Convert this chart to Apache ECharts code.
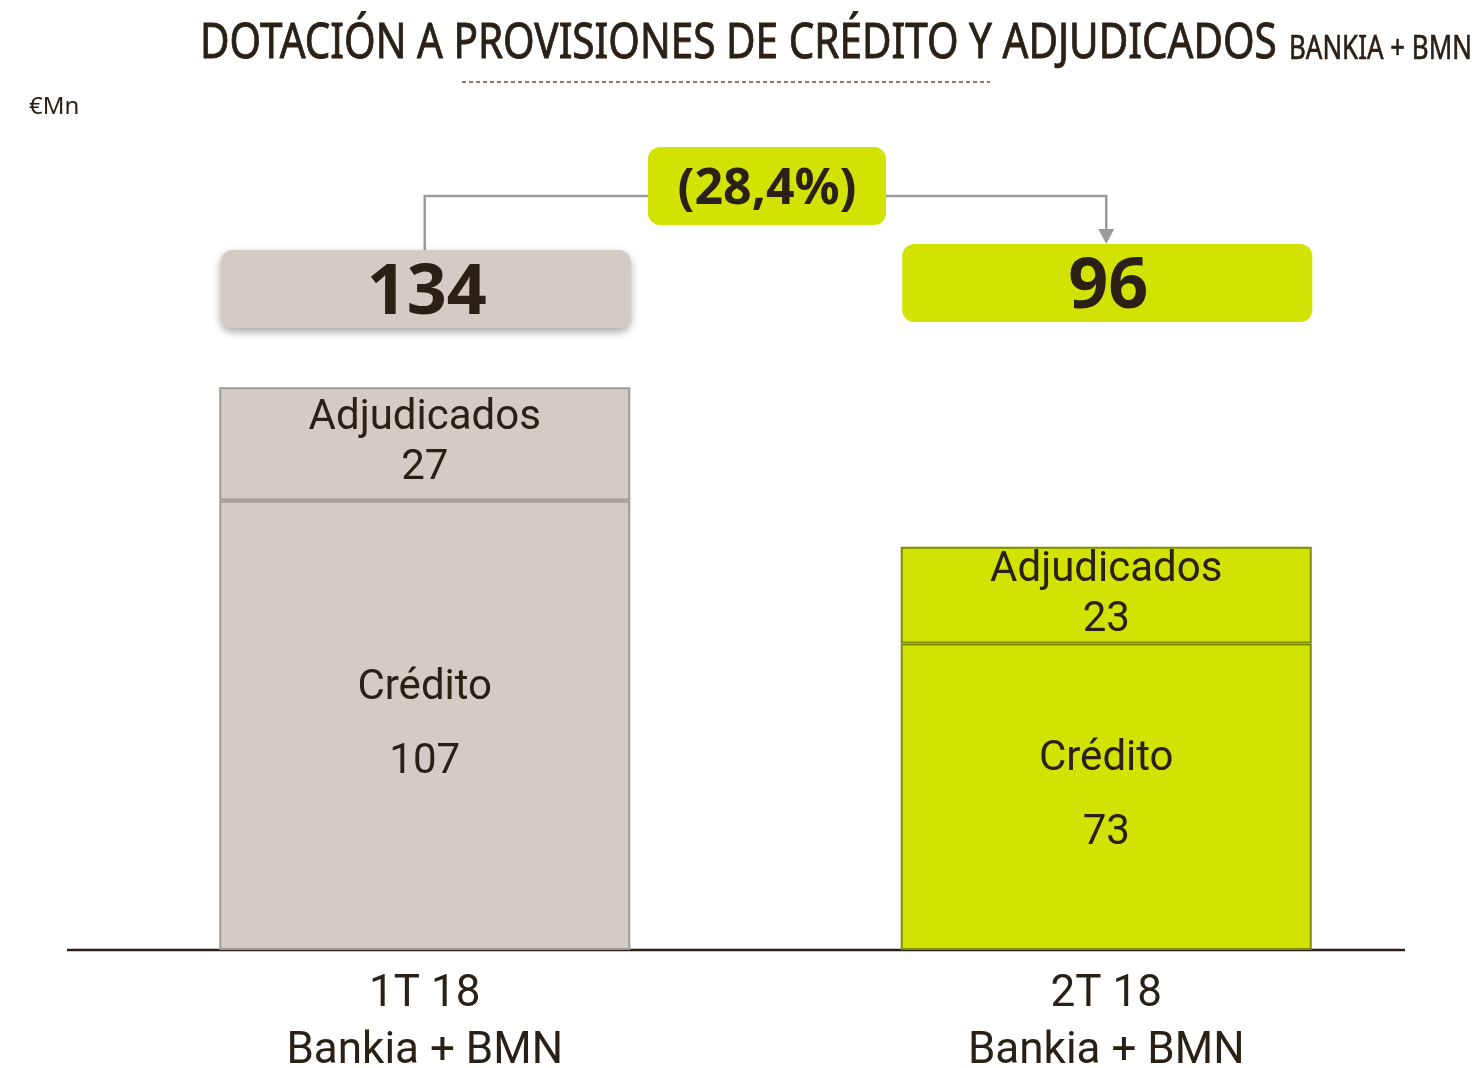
<!DOCTYPE html>
<html>
<head>
<meta charset="utf-8">
<script src="https://cdn.jsdelivr.net/npm/echarts@6/dist/echarts.min.js"></script>
<style>
html,body{margin:0;padding:0;background:#fff;}
#chart{width:1484px;height:1068px;}
</style>
</head>
<body>
<div id="chart"></div>
<script>
// ---- data ----
const categories = ['1T 18\nBankia + BMN', '2T 18\nBankia + BMN'];
const credito = [107, 73];
const adjudicados = [27, 23];
const segmentNames = ['Crédito', 'Adjudicados'];
const titleText = 'DOTACIÓN A PROVISIONES DE CRÉDITO Y ADJUDICADOS';
const subtitleText = 'BANKIA + BMN';
const unitText = '€Mn';

// ---- styles ----
const FONT = 'Roboto, "Noto Sans", sans-serif';
const NOTO = '"Noto Sans", sans-serif';
const TXT = '#2b2015';
const barColors = ['#d5cbc5', '#d2e303'];
const barBorders = ['#9c9a98', '#7f8c00'];

const totals = credito.map((v, i) => v + adjudicados[i]);
const change = (totals[1] - totals[0]) / totals[0] * 100;
const changeText = change < 0
  ? '(' + Math.abs(change).toFixed(1).replace('.', ',') + '%)'
  : Math.abs(change).toFixed(1).replace('.', ',') + '%';

const chart = echarts.init(document.getElementById('chart'));

function itemData(arr) {
  return arr.map((v, i) => ({
    value: v,
    itemStyle: { color: barColors[i], borderColor: barBorders[i], borderWidth: 2 }
  }));
}

chart.setOption({
  animation: false,
  grid: { left: 84, right: 37, top: 320, bottom: 118, outerBoundsMode: 'none', containLabel: false },
  xAxis: {
    type: 'category',
    data: categories,
    axisLine: { show: false },
    axisTick: { show: false },
    axisLabel: { color: TXT, fontFamily: FONT, fontSize: 44, lineHeight: 57, margin: 16 }
  },
  yAxis: { type: 'value', min: 0, max: 150, show: false, splitLine: { show: false } },
  series: [
    {
      name: segmentNames[0], type: 'bar', stack: 'total', barWidth: 411,
      data: itemData(credito),
      label: {
        show: true, position: 'inside', color: TXT, fontFamily: FONT, fontSize: 42, lineHeight: 37,
        formatter: p => segmentNames[0] + '\n\n' + p.value
      },
      z: 3
    },
    {
      name: segmentNames[1], type: 'bar', stack: 'total', barWidth: 411,
      data: itemData(adjudicados),
      label: {
        show: true, position: 'inside', color: TXT, fontFamily: FONT, fontSize: 42, lineHeight: 50,
        formatter: p => segmentNames[1] + '\n' + p.value
      },
      z: 3
    }
  ]
});

const cx0 = chart.convertToPixel({ xAxisIndex: 0 }, 0);
const cx1 = chart.convertToPixel({ xAxisIndex: 0 }, 1);
const baseY = chart.convertToPixel({ yAxisIndex: 0 }, 0);
const boxW = 410, boxH = 78;

chart.setOption({
  graphic: [
    {
      type: 'text', x: 200, y: 69, scaleX: 0.81, scaleY: 1,
      style: {
        text: '{a|' + titleText + '}{b|' + subtitleText + '}',
        verticalAlign: 'bottom',
        rich: {
          a: { fontFamily: NOTO, fontSize: 50, fill: TXT, fontWeight: 'normal', verticalAlign: 'bottom',
               stroke: TXT, lineWidth: 0.9 },
          b: { fontFamily: NOTO, fontSize: 32, fill: TXT, verticalAlign: 'bottom', padding: [0, 0, 3, 15],
               stroke: TXT, lineWidth: 0.6 }
        }
      }
    },
    {
      type: 'line', shape: { x1: 462, y1: 82, x2: 990, y2: 82 },
      style: { stroke: '#8c7a66', lineWidth: 2, lineDash: [4, 3] }
    },
    {
      type: 'text', left: 29, top: 95,
      style: { text: unitText, fontFamily: NOTO, fontSize: 24, fill: TXT }
    },
    // baseline
    {
      type: 'line', z: 1, shape: { x1: 67, y1: baseY, x2: 1405, y2: baseY },
      style: { stroke: TXT, lineWidth: 2.5 }
    },
    // connector
    {
      type: 'polyline', shape: { points: [[cx0, 250], [cx0, 196], [648, 196]] },
      style: { stroke: '#9b9b9b', lineWidth: 2.5, fill: null }
    },
    {
      type: 'polyline', shape: { points: [[886, 196], [cx1, 196], [cx1, 232]] },
      style: { stroke: '#9b9b9b', lineWidth: 2.5, fill: null }
    },
    {
      type: 'polygon', shape: { points: [[cx1 - 8, 229], [cx1 + 8, 229], [cx1, 244]] },
      style: { fill: '#9b9b9b' }
    },
    // percentage box
    {
      type: 'rect', shape: { x: 648, y: 147, width: 238, height: 78, r: 12 },
      style: { fill: barColors[1] }
    },
    {
      type: 'text', x: 767, y: 190,
      style: { text: changeText, fontFamily: NOTO, fontWeight: 'bold', fontSize: 50,
               fill: TXT, align: 'center', verticalAlign: 'middle' }
    },
    // total boxes
    {
      type: 'rect', shape: { x: cx0 - 204, y: 250, width: boxW, height: boxH, r: 12 },
      style: { fill: barColors[0], shadowBlur: 8, shadowOffsetY: 4, shadowColor: 'rgba(0,0,0,0.35)' }
    },
    {
      type: 'text', x: cx0 + 2, y: 294,
      style: { text: String(totals[0]), fontFamily: NOTO, fontWeight: 'bold', fontSize: 70,
               fill: TXT, align: 'center', verticalAlign: 'middle' }
    },
    {
      type: 'rect', shape: { x: cx1 - 204, y: 244, width: boxW, height: boxH, r: 12 },
      style: { fill: barColors[1] }
    },
    {
      type: 'text', x: cx1 + 2, y: 288,
      style: { text: String(totals[1]), fontFamily: NOTO, fontWeight: 'bold', fontSize: 70,
               fill: TXT, align: 'center', verticalAlign: 'middle' }
    }
  ]
});
</script>
</body>
</html>
